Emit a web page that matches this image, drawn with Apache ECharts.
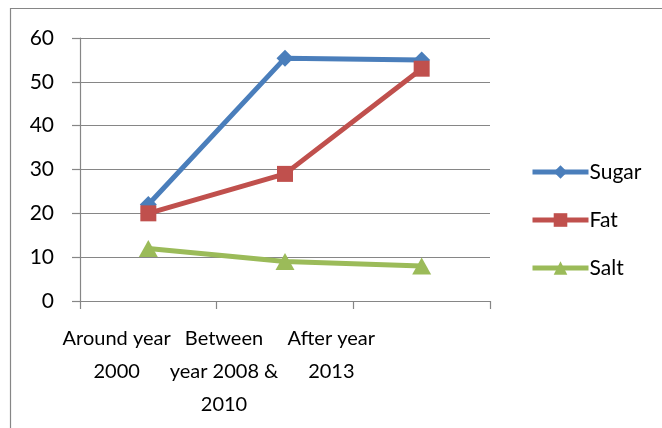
<!DOCTYPE html>
<html>
<head>
<meta charset="utf-8">
<script src="https://cdn.jsdelivr.net/npm/echarts@6/dist/echarts.min.js"></script>
<style>
  html, body { margin: 0; padding: 0; background: #fff; }
  #chart { width: 662px; height: 428px; }
</style>
</head>
<body>
<div id="chart"></div>
<script>
// Category labels and values per series
const categories = ['Around year\n2000', 'Between\nyear 2008 &\n2010', 'After year\n2013'];
const sugar = [22, 55.4, 55];
const fat = [20, 29, 53];
const salt = [12, 9, 8];
const yTicks = { min: 0, max: 60, interval: 10 };

const FONT = 'Lato, "Open Sans", sans-serif';
const GRID_COLOR = '#868686';
const LINE_W = 5;

const chart = echarts.init(document.getElementById('chart'), null, { renderer: 'canvas' });

function lineSeries(name, data, color, symbol, size) {
  return {
    name: name,
    type: 'line',
    data: data,
    xAxisIndex: 0,
    yAxisIndex: 0,
    symbol: symbol,
    symbolSize: size,
    showAllSymbol: true,
    lineStyle: { color: color, width: LINE_W },
    itemStyle: { color: color },
    emphasis: { disabled: true },
    animation: false
  };
}

chart.setOption({
  backgroundColor: '#fff',
  animation: false,
  textStyle: { fontFamily: FONT, color: '#000' },
  graphic: [{
    type: 'rect',
    shape: { x: 10.5, y: 8.5, width: 800, height: 600 },
    style: { fill: 'none', stroke: GRID_COLOR, lineWidth: 1.2 },
    silent: true,
    z: -1
  }],
  legend: {
    orient: 'vertical',
    left: 530,
    top: 161,
    padding: 0,
    itemWidth: 56,
    itemHeight: 17,
    itemGap: 26,
    lineStyle: { width: LINE_W },
    textStyle: { fontFamily: FONT, fontSize: 21, color: '#000', lineHeight: 22, padding: [0, 0, 0, -4] },
    data: ['Sugar', 'Fat', 'Salt'],
    selectedMode: false
  },
  grid: [
    { left: 80, right: 172, top: 38, bottom: 127 },
    { left: 63, width: 322, top: 301, height: 1 }
  ],
  xAxis: [{
    type: 'category',
    gridIndex: 0,
    data: categories,
    boundaryGap: true,
    axisLine: { show: true, lineStyle: { color: GRID_COLOR, width: 1.2 } },
    axisTick: { show: true, length: 8, alignWithLabel: false, lineStyle: { color: GRID_COLOR, width: 1.2 } },
    axisLabel: { show: false },
    splitLine: { show: false }
  }, {
    type: 'category',
    gridIndex: 1,
    data: categories,
    boundaryGap: true,
    axisLine: { show: false },
    axisTick: { show: false },
    axisLabel: {
      show: true,
      interval: 0,
      margin: 20,
      fontFamily: FONT,
      fontSize: 20,
      lineHeight: 33,
      color: '#000',
      align: 'center'
    },
    splitLine: { show: false }
  }],
  yAxis: [{
    type: 'value',
    gridIndex: 0,
    min: yTicks.min,
    max: yTicks.max,
    interval: yTicks.interval,
    axisLine: { show: true, lineStyle: { color: GRID_COLOR, width: 1.2 } },
    axisTick: { show: true, length: 8, lineStyle: { color: GRID_COLOR, width: 1.2 } },
    axisLabel: { fontFamily: FONT, fontSize: 21, color: '#000', margin: 26 },
    splitLine: { show: true, lineStyle: { color: GRID_COLOR, width: 1.2 } }
  }, {
    type: 'value',
    gridIndex: 1,
    show: false
  }],
  series: [
    lineSeries('Sugar', sugar, '#4A7EBB', 'diamond', 17),
    lineSeries('Fat', fat, '#C0504D', 'rect', 16),
    lineSeries('Salt', salt, '#9BBB59', 'triangle', [19, 17])
  ]
});
</script>
</body>
</html>
